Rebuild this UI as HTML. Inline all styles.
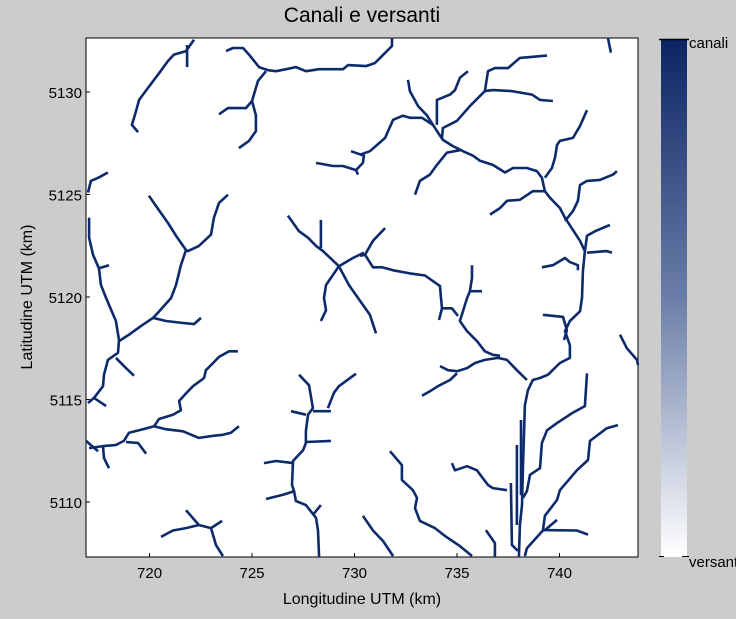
<!DOCTYPE html>
<html><head><meta charset="utf-8">
<style>
html,body{margin:0;padding:0;background:#cccccc;}
svg{display:block;font-family:"Liberation Sans",sans-serif;}
</style></head>
<body>
<svg id="chart" width="736" height="619" viewBox="0 0 736 619">
<defs>
<linearGradient id="cb" x1="0" y1="0" x2="0" y2="1">
<stop offset="0" stop-color="#0b2463"/><stop offset="0.5" stop-color="#6b7ea8"/><stop offset="1" stop-color="#ffffff"/>
</linearGradient>
</defs>
<rect x="0" y="0" width="736" height="619" fill="#cccccc"/>
<text x="362" y="22" text-anchor="middle" font-size="21" fill="#000">Canali e versanti</text>
<rect x="86" y="38" width="552" height="519" fill="#fff" stroke="#000" stroke-width="1"/>
<g id="channels"></g>
<g id="xticks"></g>
<g id="yticks"></g>
<text x="362" y="604" text-anchor="middle" font-size="16">Longitudine UTM (km)</text>
<text transform="translate(32,297) rotate(-90)" text-anchor="middle" font-size="16">Latitudine UTM (km)</text>
<g>
<rect x="661" y="39" width="26" height="518" fill="url(#cb)"/>
<line x1="659" y1="39.5" x2="689" y2="39.5" stroke="#000" stroke-width="1.5"/>
<line x1="659" y1="556.5" x2="664" y2="556.5" stroke="#000"/>
<line x1="682" y1="556.5" x2="689" y2="556.5" stroke="#000"/>
<text x="689" y="48" font-size="15">canali</text>
<text x="689" y="567" font-size="15">versanti</text>
</g>
</svg>
<script>
const xTicks = [720, 725, 730, 735, 740];
const yTicks = [5110, 5115, 5120, 5125, 5130];
const xDomain = [716.9, 743.83];
const yDomain = [5107.32, 5132.63];
const channels = [
[[722.17,5132.54],[721.78,5131.99],[721.19,5131.82],[720.90,5131.51],[720.46,5130.91],[719.92,5130.19],[719.49,5129.61],[719.34,5129.06],[719.14,5128.39],[719.44,5128.04]],
[[721.83,5132.29],[721.83,5131.21]],
[[723.73,5131.99],[724.07,5132.14],[724.56,5132.14],[724.85,5131.82],[725.34,5131.21],[725.78,5131.06],[726.17,5131.01],[726.66,5131.11],[727.14,5131.21],[727.63,5131.01],[728.27,5131.11],[729.44,5131.11],[729.68,5131.31],[730.56,5131.26],[731.00,5131.41],[731.83,5132.24],[731.83,5132.64]],
[[725.68,5131.01],[725.29,5130.54],[725.00,5129.56],[725.19,5128.86],[725.19,5128.09],[724.85,5127.61],[724.36,5127.26]],
[[725.00,5129.56],[724.70,5129.21],[723.83,5129.21],[723.39,5128.91]],
[[717.97,5126.07],[717.49,5125.81],[717.14,5125.66],[717.00,5125.09]],
[[728.12,5126.54],[728.95,5126.39],[729.44,5126.39],[730.07,5126.19],[730.41,5126.54],[730.46,5126.89],[729.83,5127.11]],
[[730.07,5126.19],[730.17,5125.97]],
[[730.27,5126.94],[730.75,5127.11],[731.49,5127.76],[731.88,5128.64],[732.36,5128.84],[732.70,5128.74],[733.29,5128.74],[733.83,5128.39]],
[[719.97,5124.94],[720.31,5124.44],[720.90,5123.61],[721.29,5122.99],[721.78,5122.29],[721.53,5121.55],[721.29,5120.58],[721.05,5119.95],[720.41,5119.23],[720.17,5118.98],[719.58,5118.58],[719.00,5118.16],[718.51,5117.85]],
[[723.83,5124.99],[723.39,5124.59],[723.14,5123.86],[723.00,5123.04],[722.41,5122.49],[721.88,5122.24],[721.78,5122.29]],
[[717.05,5123.86],[717.05,5122.89],[717.24,5122.06],[717.53,5121.40],[717.63,5120.58],[717.88,5119.95],[718.36,5118.83],[718.51,5117.90],[718.46,5117.28],[717.97,5116.93],[717.78,5116.21],[717.73,5115.65],[717.29,5115.08],[717.00,5114.83]],
[[717.53,5121.40],[718.02,5121.55]],
[[717.29,5115.08],[717.88,5114.68]],
[[720.17,5118.98],[720.80,5118.83],[721.63,5118.73],[722.17,5118.68],[722.51,5118.98]],
[[718.36,5117.03],[718.85,5116.53],[719.24,5116.16]],
[[726.75,5123.97],[727.29,5123.21],[727.73,5122.89],[728.12,5122.49],[728.46,5122.24],[729.24,5121.50],[729.92,5121.90],[730.46,5122.16]],
[[729.24,5121.50],[728.61,5120.58],[728.51,5119.95],[728.61,5119.35],[728.36,5118.83]],
[[729.24,5121.50],[729.73,5120.58],[730.17,5119.95],[730.75,5119.13],[731.05,5118.23]],
[[728.36,5123.76],[728.36,5122.39]],
[[731.49,5123.36],[730.90,5122.74],[730.51,5122.06],[730.27,5122.01]],
[[730.51,5122.06],[730.90,5121.45],[731.34,5121.45],[731.88,5121.30],[732.70,5121.15],[733.44,5121.05],[734.17,5120.53],[734.22,5119.95],[734.27,5119.45],[734.12,5118.88]],
[[734.27,5119.45],[734.75,5119.45],[735.05,5119.08]],
[[735.73,5121.55],[735.73,5120.93],[735.63,5120.28],[735.49,5119.95],[735.14,5118.83],[735.49,5118.33],[735.97,5117.85],[736.36,5117.35],[736.75,5117.18],[737.10,5117.13]],
[[735.63,5120.28],[736.22,5120.28]],
[[732.61,5130.59],[732.70,5130.04],[733.10,5129.31],[733.53,5128.86],[733.83,5128.39],[734.07,5128.02],[734.31,5127.66],[734.80,5127.36],[735.29,5127.11],[735.78,5126.89],[736.12,5126.64],[736.75,5126.44],[737.34,5126.07],[737.73,5126.29],[738.41,5126.29],[738.90,5126.14],[739.14,5125.81],[739.29,5125.16],[739.53,5124.84],[740.02,5124.34],[740.27,5123.86],[740.66,5123.26],[741.00,5122.74],[741.24,5122.24],[741.14,5121.25],[741.10,5119.95],[741.00,5119.30],[740.51,5118.83],[740.27,5118.33],[740.51,5117.65],[740.51,5117.03],[740.02,5116.78],[739.44,5116.21],[739.05,5116.05],[738.70,5115.95],[738.46,5115.45],[738.31,5114.73],[738.22,5111.80],[738.17,5109.85],[738.07,5108.88],[738.02,5107.32]],
[[737.92,5112.78],[737.92,5108.88]],
[[738.12,5114.00],[738.12,5110.33]],
[[737.63,5110.93],[737.68,5107.90],[737.97,5107.62]],
[[734.02,5128.39],[734.02,5129.61],[734.66,5129.87],[734.90,5130.09],[735.14,5130.69],[735.53,5131.01]],
[[734.27,5127.76],[734.31,5128.24],[735.00,5128.59],[735.63,5129.31],[736.36,5130.04],[736.51,5131.01],[736.85,5131.16],[737.49,5131.16],[738.07,5131.66],[739.39,5131.77]],
[[736.36,5130.04],[736.75,5130.09],[737.68,5130.04],[738.66,5129.87],[739.05,5129.61],[739.68,5129.56]],
[[735.14,5127.16],[734.51,5127.04],[734.02,5126.44],[733.68,5125.97],[733.19,5125.66],[732.95,5124.99]],
[[739.29,5125.16],[738.70,5125.16],[738.07,5124.74],[737.44,5124.69],[737.10,5124.34],[736.61,5124.02]],
[[739.29,5125.81],[739.63,5126.29],[739.78,5126.79],[739.88,5127.41],[740.02,5127.61],[740.66,5127.76],[741.00,5128.34],[741.34,5129.11]],
[[740.27,5123.71],[740.66,5124.19],[740.90,5124.69],[741.00,5125.46],[741.34,5125.66],[741.97,5125.71],[742.61,5125.97],[742.80,5126.14]],
[[741.24,5122.24],[741.34,5122.99],[741.73,5123.21],[742.46,5123.51]],
[[741.34,5122.16],[742.31,5122.24],[742.56,5122.16]],
[[739.14,5121.45],[739.68,5121.55],[740.27,5121.90],[740.51,5121.70],[740.90,5121.55],[740.90,5121.30]],
[[742.36,5132.64],[742.51,5131.92]],
[[724.31,5117.35],[723.88,5117.35],[723.39,5117.08],[723.10,5116.78],[722.75,5116.43],[722.66,5116.05],[722.12,5115.65],[721.78,5115.30],[721.44,5114.93],[721.53,5114.48],[721.14,5114.26],[720.46,5114.05],[720.22,5113.70],[719.68,5113.55],[719.00,5113.38],[718.75,5112.98],[718.36,5112.78],[717.73,5112.73],[717.05,5112.63]],
[[720.22,5113.70],[720.80,5113.55],[721.63,5113.45],[722.41,5113.13],[723.10,5113.23],[723.58,5113.28],[723.97,5113.38],[724.36,5113.70]],
[[718.85,5112.93],[719.44,5112.88],[719.83,5112.36]],
[[717.73,5112.73],[717.78,5112.15],[718.02,5111.65]],
[[716.90,5112.98],[717.49,5112.48]],
[[727.29,5116.21],[727.78,5115.70],[727.97,5114.58],[727.73,5114.26],[727.63,5113.46],[727.63,5112.88],[727.49,5112.53],[727.00,5112.00],[726.95,5110.83],[727.05,5110.53],[727.14,5110.05],[727.63,5109.85],[728.12,5109.23],[728.22,5108.61],[728.27,5107.32]],
[[727.97,5114.43],[728.85,5114.43]],
[[728.70,5114.58],[729.00,5115.33],[729.24,5115.65],[730.07,5116.26]],
[[726.90,5114.43],[727.63,5114.26]],
[[727.63,5112.93],[728.85,5112.98]],
[[727.00,5111.90],[726.17,5112.00],[725.58,5111.90]],
[[727.05,5110.53],[726.51,5110.36],[725.68,5110.15]],
[[727.97,5109.38],[728.36,5109.85]],
[[721.78,5109.60],[722.41,5108.88],[723.00,5108.73],[723.14,5108.25],[723.24,5107.90],[723.58,5107.37]],
[[722.41,5108.88],[721.78,5108.73],[721.14,5108.61],[720.56,5108.30]],
[[723.00,5108.73],[723.54,5109.08]],
[[739.19,5119.13],[740.17,5119.03],[740.36,5118.38],[740.22,5117.90]],
[[738.41,5115.95],[737.92,5116.43],[737.44,5116.93],[737.00,5117.03],[736.36,5116.93],[735.88,5116.78],[735.49,5116.53],[735.00,5116.38],[734.56,5116.43],[734.17,5116.63]],
[[735.00,5116.28],[734.66,5115.95],[734.07,5115.65],[733.68,5115.40],[733.29,5115.18]],
[[741.34,5116.28],[741.24,5114.68],[740.66,5114.36],[739.88,5113.85],[739.39,5113.50],[739.14,5112.88],[739.05,5111.65],[738.56,5111.33],[738.41,5110.53],[738.22,5110.20]],
[[742.85,5113.75],[742.31,5113.60],[741.49,5112.98],[741.39,5112.05],[740.85,5111.55],[740.02,5110.58],[739.88,5110.10],[739.29,5109.33],[739.19,5108.61],[738.41,5107.75],[738.31,5107.37]],
[[739.19,5108.63],[740.85,5108.61],[741.39,5108.41]],
[[739.29,5108.63],[739.88,5109.13]],
[[731.73,5112.48],[732.31,5111.80],[732.31,5111.08],[732.85,5110.58],[733.05,5110.20],[732.95,5109.70],[733.19,5109.08],[733.92,5108.73],[734.41,5108.35],[735.14,5107.85],[735.73,5107.37]],
[[734.75,5111.90],[734.90,5111.55],[735.49,5111.75],[735.97,5111.55],[736.51,5110.83],[736.75,5110.68],[737.44,5110.58]],
[[730.41,5109.33],[730.90,5108.61],[731.39,5108.10],[731.88,5107.37]],
[[736.41,5108.63],[736.85,5108.00],[736.85,5107.32]],
[[742.95,5118.16],[743.29,5117.50],[743.78,5116.93],[743.83,5116.68]]
];
const PL=86, PR=638, PT=38, PB=557;
function sx(v){return PL+(v-xDomain[0])/(xDomain[1]-xDomain[0])*(PR-PL);}
function sy(v){return PT+(yDomain[1]-v)/(yDomain[1]-yDomain[0])*(PB-PT);}
const NS="http://www.w3.org/2000/svg";
const g=document.getElementById('channels');
channels.forEach((c,i)=>{
  const p=document.createElementNS(NS,'polyline');
  p.setAttribute('points',c.map(q=>sx(q[0]).toFixed(1)+','+sy(q[1]).toFixed(1)).join(' '));
  p.setAttribute('fill','none');
  p.setAttribute('stroke','#0d2a6b');
  p.setAttribute('stroke-width','2.6');
  p.setAttribute('stroke-linejoin','round');
  
  
  g.appendChild(p);
});
const xg=document.getElementById('xticks');
xTicks.forEach(t=>{
  const x=sx(t);
  const l=document.createElementNS(NS,'line');
  l.setAttribute('x1',x);l.setAttribute('x2',x);l.setAttribute('y1',PB);l.setAttribute('y2',PB-4);
  l.setAttribute('stroke','#000');
  
  
  xg.appendChild(l);
  const tx=document.createElementNS(NS,'text');
  tx.setAttribute('x',x);tx.setAttribute('y',PB+21);tx.setAttribute('text-anchor','middle');tx.setAttribute('font-size','15');
  tx.textContent=t;
  
  
  xg.appendChild(tx);
});
const yg=document.getElementById('yticks');
yTicks.forEach(t=>{
  const y=sy(t);
  const l=document.createElementNS(NS,'line');
  l.setAttribute('x1',PL);l.setAttribute('x2',PL+4);l.setAttribute('y1',y);l.setAttribute('y2',y);
  l.setAttribute('stroke','#000');
  
  
  yg.appendChild(l);
  const tx=document.createElementNS(NS,'text');
  tx.setAttribute('x',PL-4);tx.setAttribute('y',y+6);tx.setAttribute('text-anchor','end');tx.setAttribute('font-size','15');
  tx.textContent=t;
  
  
  yg.appendChild(tx);
});
</script>
</body></html>
